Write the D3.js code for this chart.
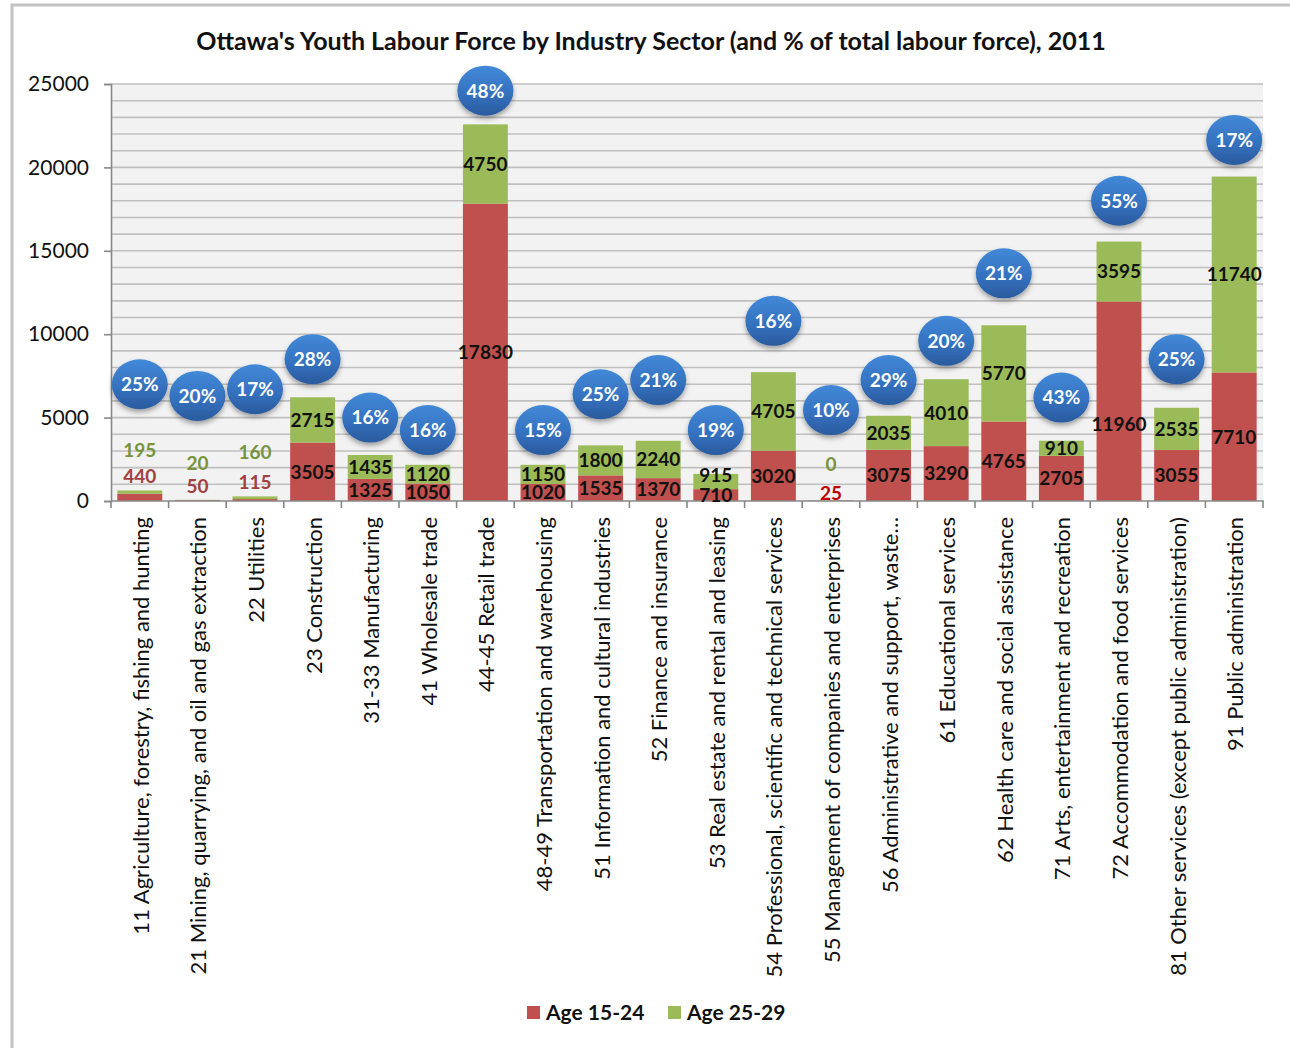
<!DOCTYPE html>
<html>
<head>
<meta charset="utf-8">
<script src="https://cdn.jsdelivr.net/npm/d3@7"></script>
<style>
  html, body { margin: 0; padding: 0; background: #fff; }
  svg { display: block; font-family: Lato, "Open Sans", sans-serif; }
</style>
</head>
<body>
<svg id="chart" width="1290" height="1048"></svg>
<script>
// Ottawa youth labour force by sector, 2011 - stacked bars + share bubbles
var sectors = [
  "11 Agriculture, forestry, fishing and hunting",
  "21 Mining, quarrying, and oil and gas extraction",
  "22 Utilities",
  "23 Construction",
  "31-33 Manufacturing",
  "41 Wholesale trade",
  "44-45 Retail trade",
  "48-49 Transportation and warehousing",
  "51 Information and cultural industries",
  "52 Finance and insurance",
  "53 Real estate and rental and leasing",
  "54 Professional, scientific and technical services",
  "55 Management of companies and enterprises",
  "56 Administrative and support, waste\u2026",
  "61 Educational services",
  "62 Health care and social assistance",
  "71 Arts, entertainment and recreation",
  "72 Accommodation and food services",
  "81 Other services (except public administration)",
  "91 Public administration"
];
var age1524 = [440, 50, 115, 3505, 1325, 1050, 17830, 1020, 1535, 1370, 710, 3020, 25, 3075, 3290, 4765, 2705, 11960, 3055, 7710];
var age2529 = [195, 20, 160, 2715, 1435, 1120, 4750, 1150, 1800, 2240, 915, 4705, 0, 2035, 4010, 5770, 910, 3595, 2535, 11740];
var youthShare = [25, 20, 17, 28, 16, 16, 48, 15, 25, 21, 19, 16, 10, 29, 20, 21, 43, 55, 25, 17];
// where each bubble sits, in labour-force units
var bubbleAt = [7000, 6300, 6700, 8500, 5000, 4250, 24600, 4250, 6400, 7250, 4250, 10800, 5450, 7250, 9600, 13650, 6200, 18000, 8500, 21650];
// label anchors that were moved off the segment centre (null = centred)
var redLabelAt = [1500, 900, 1140, null, null, null, null, null, null, null, null, null, 480, null, null, null, null, 4600, null, null];
var greenLabelAt = [3050, 2280, 2940, null, null, null, null, null, null, null, 1560, null, 2220, null, null, null, null, null, null, null];
var yTicks = [0, 5000, 10000, 15000, 20000, 25000];
var series = [{ key: "a", name: "Age 15-24", color: "#c0504d" }, { key: "b", name: "Age 25-29", color: "#9bbb59" }];

var W = 1290, H = 1048;
var m = { left: 111, right: 1263, top: 84, bottom: 501 };
var svg = d3.select("#chart");

var rows = sectors.map(function (s, i) { return { name: s, a: age1524[i], b: age2529[i], i: i }; });
var x = d3.scaleBand().domain(sectors).range([m.left, m.right]).paddingInner(0.22).paddingOuter(0.11);
var y = d3.scaleLinear().domain([0, 25000]).range([m.bottom, m.top]);

var defs = svg.append("defs");
var grad = defs.append("linearGradient").attr("id", "bub").attr("x1", 0).attr("y1", 0).attr("x2", 0).attr("y2", 1);
grad.append("stop").attr("offset", "0%").attr("stop-color", "#4289d8");
grad.append("stop").attr("offset", "55%").attr("stop-color", "#3572c0");
grad.append("stop").attr("offset", "100%").attr("stop-color", "#2a5a9e");
var sh = defs.append("filter").attr("id", "shadow").attr("x", "-30%").attr("y", "-30%").attr("width", "160%").attr("height", "170%");
sh.append("feDropShadow").attr("dx", 0).attr("dy", 3).attr("stdDeviation", 2.5).attr("flood-color", "#000").attr("flood-opacity", 0.35);

// outer frame
svg.append("rect").attr("x", 12).attr("y", 5).attr("width", W + 10).attr("height", H + 10)
  .attr("fill", "none").attr("stroke", "#c3c3c3").attr("stroke-width", 3);

svg.append("text").attr("x", 651).attr("y", 50).attr("text-anchor", "middle")
  .attr("font-size", 25).attr("font-weight", "bold").attr("fill", "#111")
  .text("Ottawa's Youth Labour Force by Industry Sector (and % of total labour force), 2011");

// plot background + grid every 1000
svg.append("rect").attr("x", m.left).attr("y", m.top).attr("width", m.right - m.left).attr("height", m.bottom - m.top).attr("fill", "#f2f2f2");
svg.append("g").selectAll("line").data(d3.range(1000, 25001, 1000)).enter().append("line")
  .attr("x1", m.left).attr("x2", m.right).attr("y1", function (d) { return y(d); }).attr("y2", function (d) { return y(d); })
  .attr("stroke", "#bfbfbf").attr("stroke-width", 1.6);

// y axis
var ya = svg.append("g").attr("transform", "translate(" + m.left + ",0)")
  .call(d3.axisLeft(y).tickValues(yTicks).tickSize(7).tickPadding(15).tickFormat(d3.format("d")));
ya.select(".domain").attr("stroke", "#888").attr("stroke-width", 1.6);
ya.selectAll(".tick line").attr("stroke", "#888").attr("stroke-width", 1.6);
ya.selectAll("text").attr("font-size", 21).attr("font-family", "Lato, sans-serif").attr("fill", "#111");

// stacked bars
var stack = d3.stack().keys(["a", "b"])(rows);
svg.append("g").selectAll("g").data(stack).enter().append("g")
  .attr("fill", function (d, k) { return series[k].color; })
  .selectAll("rect").data(function (d) { return d; }).enter().append("rect")
  .attr("x", function (d) { return x(d.data.name); }).attr("width", x.bandwidth())
  .attr("y", function (d) { return y(d[1]); }).attr("height", function (d) { return y(d[0]) - y(d[1]); });

// x axis with ticks at category boundaries
var step = x.step();
svg.append("line").attr("x1", m.left).attr("x2", m.right + 1).attr("y1", m.bottom).attr("y2", m.bottom).attr("stroke", "#888").attr("stroke-width", 1.6);
svg.append("g").selectAll("line").data(d3.range(sectors.length + 1)).enter().append("line")
  .attr("x1", function (k) { return m.left + k * step; }).attr("x2", function (k) { return m.left + k * step; })
  .attr("y1", m.bottom).attr("y2", m.bottom + 7).attr("stroke", "#888").attr("stroke-width", 1.6);
svg.append("g").selectAll("text").data(rows).enter().append("text")
  .attr("transform", function (d) { return "translate(" + (x(d.name) + x.bandwidth() / 2 + 1) + "," + (m.bottom + 16) + ") rotate(-90)"; })
  .attr("text-anchor", "end").attr("dy", "0.36em").attr("font-size", 22).attr("fill", "#111")
  .text(function (d) { return d.name; });

// data labels
var lab = svg.append("g").attr("font-size", 19).attr("font-weight", "bold").attr("text-anchor", "middle");
rows.forEach(function (d, i) {
  var cx = x(d.name) + x.bandwidth() / 2;
  var moved = redLabelAt[i] !== null;
  lab.append("text").attr("x", cx).attr("y", y(moved ? redLabelAt[i] : d.a / 2)).attr("dy", "0.36em")
    .attr("fill", !moved || i === 17 ? "#111" : (i === 12 ? "#c00000" : "#a0413f")).text(d.a);
  var gm = greenLabelAt[i] !== null;
  lab.append("text").attr("x", cx).attr("y", y(gm ? greenLabelAt[i] : d.a + d.b / 2)).attr("dy", "0.36em")
    .attr("fill", gm && i !== 10 ? "#77933c" : "#111").text(d.b);
});

// share bubbles
var bub = svg.append("g").selectAll("g").data(rows).enter().append("g")
  .attr("transform", function (d, i) { return "translate(" + (x(d.name) + x.bandwidth() / 2) + "," + y(bubbleAt[i]) + ")"; });
bub.append("ellipse").attr("rx", 28).attr("ry", 25).attr("fill", "url(#bub)").attr("filter", "url(#shadow)");
bub.append("text").attr("text-anchor", "middle").attr("dy", "0.36em").attr("font-size", 19).attr("font-weight", "bold")
  .attr("fill", "#fff").text(function (d, i) { return youthShare[i] + "%"; });

// legend
var lg = svg.append("g").attr("transform", "translate(527,1012)");
var li = lg.selectAll("g").data(series).enter().append("g").attr("transform", function (d, k) { return "translate(" + (k * 141) + ",0)"; });
li.append("rect").attr("y", -6).attr("width", 13).attr("height", 13).attr("fill", function (d) { return d.color; });
li.append("text").attr("x", 19).attr("dy", "0.36em").attr("font-size", 21).attr("font-weight", "bold").attr("fill", "#111").text(function (d) { return d.name; });
</script>
</body>
</html>
